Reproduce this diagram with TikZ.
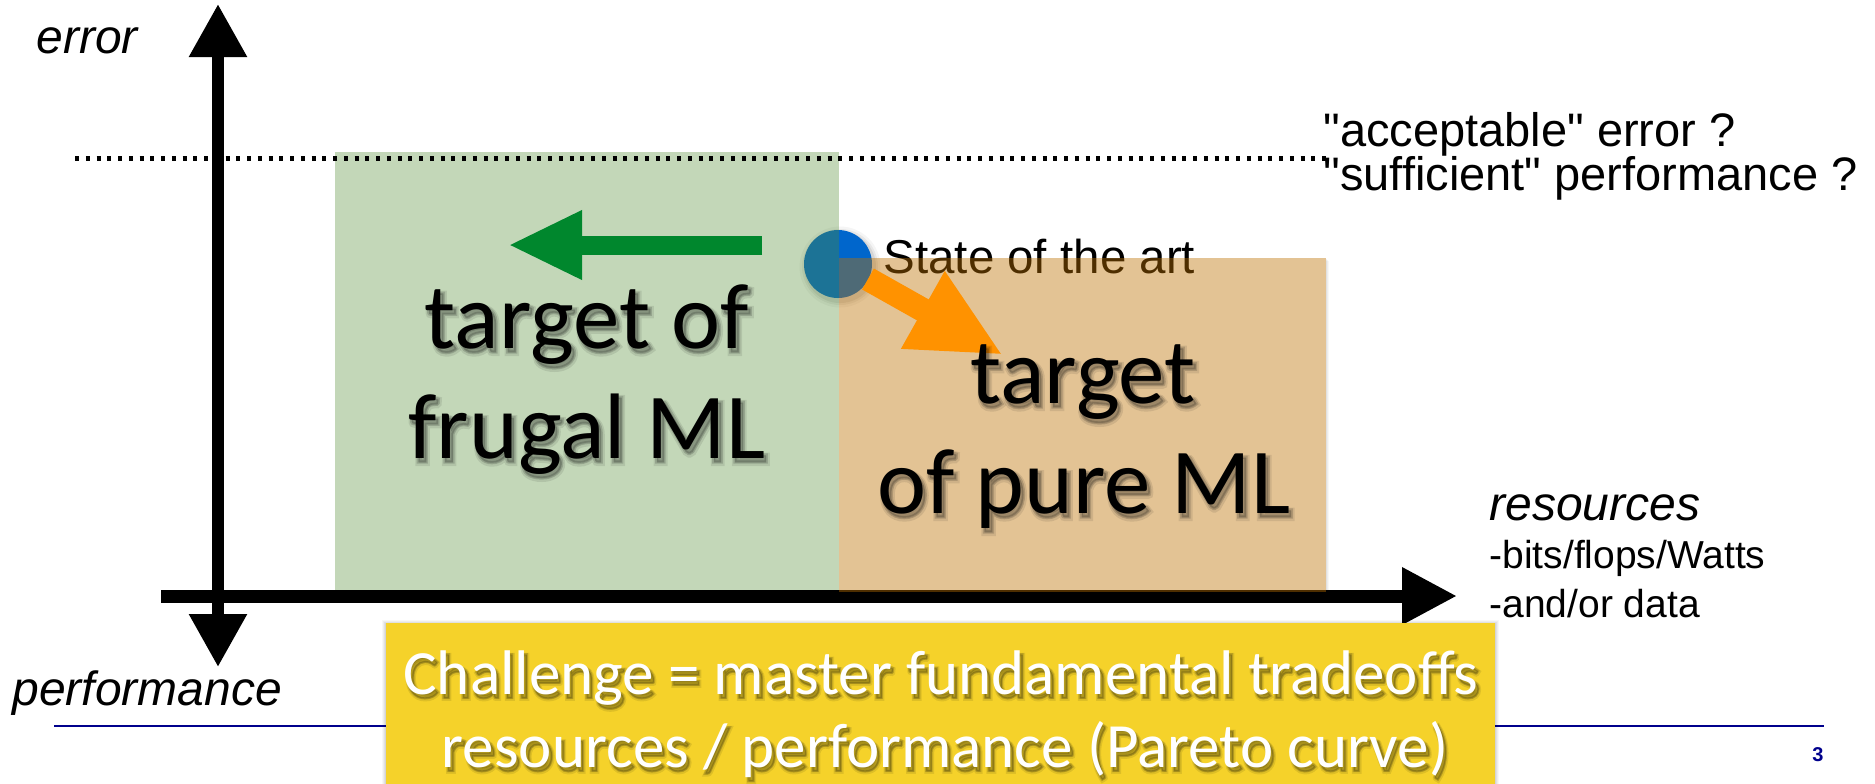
\documentclass[tikz,border=0pt]{standalone}
\usepackage{fontspec}
\setmainfont{Liberation Sans}
\newfontfamily\humanist{Carlito}
\newfontfamily\humanisthaloA{Carlito}[FakeBold=7]
\newfontfamily\humanisthaloB{Carlito}[FakeBold=3.5]
\usetikzlibrary{arrows.meta}

\definecolor{frugalgreen}{RGB}{83,141,52}
\definecolor{pureorange}{RGB}{188,112,0}
\definecolor{arrowgreen}{RGB}{0,135,45}
\definecolor{arroworange}{RGB}{255,146,0}
\definecolor{sotablue}{RGB}{0,102,204}
\definecolor{challengeyellow}{RGB}{245,210,42}
\definecolor{footerblue}{RGB}{0,0,140}

% Text with a soft drop shadow: two faint, thickened copies under the named node.
% #1 name, #2 position, #3 text style, #4 font size, #5 text
\newcommand\shadowedtext[5]{%
  \begin{scope}[opacity=0.09]
    \node[#3, text=black, shift={(1pt,-1.9pt)}, font=\humanisthaloA\fontsize{#4}{#4}\selectfont]
      (#1-haloA) at #2 {#5};
  \end{scope}
  \begin{scope}[opacity=0.16]
    \node[#3, text=black, shift={(0.9pt,-1.6pt)}, font=\humanisthaloB\fontsize{#4}{#4}\selectfont]
      (#1-haloB) at #2 {#5};
  \end{scope}
  \node[#3, font=\humanist\fontsize{#4}{#4}\selectfont] (#1) at #2 {#5};
}

\begin{document}
\begin{tikzpicture}[x=0.4pt,y=-0.4pt,
  plain/.style={inner sep=0pt, font=\fontsize{18.8pt}{22pt}\selectfont},
  axislabel/.style={inner sep=0pt, font=\fontsize{19.2pt}{22pt}\selectfont\itshape},
  smalllist/.style={inner sep=0pt, font=\fontsize{15.6pt}{18pt}\selectfont},
  bigtext/.style={inner sep=0pt, anchor=base, text=black},
  challengetext/.style={inner sep=0pt, anchor=base, text=white},
  zone/.style={draw=none, fill opacity=#1},
  blockarrow/.style={line cap=butt},
]
\useasboundingbox (0,0) rectangle (1875,783);

% axes
\coordinate (ytop) at (218,4);
\coordinate (ybot) at (218,667);
\coordinate (xleft) at (161,596);
\coordinate (xright) at (1457,596);
\draw[line width=4.8pt, {Triangle[length=21.2pt,width=22pt]}-{Triangle[length=21.2pt,width=22pt]}]
  (ybot) -- (ytop);
\draw[line width=5.2pt, -{Triangle[length=22pt,width=21.6pt]}] (xleft) -- (xright);

% state of the art point (with a faint shadow) and its label
\foreach \r/\o in {16.2/0.04,15.2/0.06,14.4/0.08}{
  \fill[black, opacity=\o] (840,267) circle[radius=\r pt];
}
\node[circle, fill=sotablue, minimum size=27.2pt, inner sep=0pt] (sota) at (838,264) {};
\node[plain, anchor=base west, font=\fontsize{19pt}{22pt}\selectfont] (sotalabel) at (883,273) {State of the art};

% target zones
\fill[frugalgreen, zone=0.35] (335,152) rectangle (839,590);
\foreach \d/\o in {3/0.03,2/0.04,1/0.05}{
  \fill[black, opacity=\o] (1326,258+\d) rectangle (1326+\d,592+\d);
}
\fill[pureorange, zone=0.42] (839,258) rectangle (1326,592);

% acceptable error threshold
\coordinate (thrleft) at (75,158.5);
\coordinate (thrright) at (1327,158.5);
\draw[line width=2pt, dash pattern=on 1.6pt off 2.7pt] (thrleft) -- (thrright);

% directions
\coordinate (gstart) at (762,245);
\coordinate (gend) at (508,245);
\draw[blockarrow, arrowgreen, line width=7.6pt, -{Triangle[length=29.6pt,width=25.6pt]}] (gstart) -- (gend);
\coordinate (ostart) at (868,279);
\coordinate (oend) at (1003,355);
\draw[blockarrow, arroworange, line width=9.6pt, -{Triangle[length=36.8pt,width=32.8pt]}] (ostart) -- (oend);

% zone captions
\shadowedtext{frugal1}{(587,348)}{bigtext}{37.2pt}{target of}
\shadowedtext{frugal2}{(587,458)}{bigtext}{37.2pt}{frugal ML}
\shadowedtext{pure1}{(1083,403)}{bigtext}{37.2pt}{target}
\shadowedtext{pure2}{(1084,513)}{bigtext}{37.2pt}{of pure ML}

% axis labels
\node[axislabel, anchor=base west] (errlabel) at (36,53) {error};
\node[axislabel, anchor=base west] (perflabel) at (12,705) {performance};
\node[plain, anchor=base west] (acc) at (1323,146) {\textquotedbl acceptable\textquotedbl{} error ?};
\node[plain, anchor=base west] (suff) at (1323,190) {\textquotedbl sufficient\textquotedbl{} performance ?};
\node[axislabel, anchor=base west] (reslabel) at (1489,520) {resources};
\node[smalllist, anchor=base west] (res1) at (1489,568) {-bits/flops/Watts};
\node[smalllist, anchor=base west] (res2) at (1489,617) {-and/or data};

% footer
\coordinate (footl) at (54,726);
\coordinate (footr) at (1824,726);
\draw[footerblue, line width=0.8pt] (footl) -- (footr);
\node[inner sep=0pt, anchor=base east, text=footerblue, font=\fontsize{8pt}{10pt}\selectfont\bfseries]
  (pagenum) at (1824,761) {3};

% challenge box
\foreach \d/\o in {4/0.03,3/0.04,2/0.05,1/0.06}{
  \fill[black, opacity=\o] (386-\d,623-\d+1) rectangle (1495+\d,790);
}
\fill[challengeyellow] (386,623) rectangle (1495,790);
\shadowedtext{chal1}{(941,694)}{challengetext}{25.2pt}{Challenge = master fundamental tradeoffs}
\shadowedtext{chal2}{(945,767)}{challengetext}{25.2pt}{resources / performance (Pareto curve)}
\end{tikzpicture}
\end{document}
